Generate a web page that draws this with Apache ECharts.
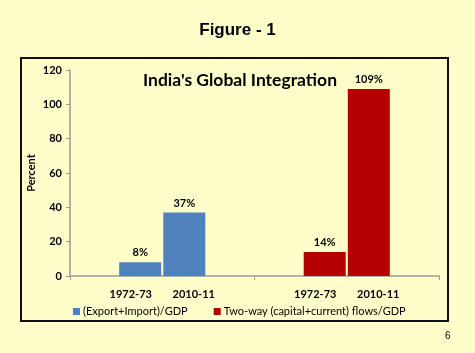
<!DOCTYPE html>
<html>
<head>
<meta charset="utf-8">
<script src="https://cdn.jsdelivr.net/npm/echarts@6/dist/echarts.min.js"></script>
<style>
  html, body { margin: 0; padding: 0; background: #ffffcc; }
  #chart { width: 475px; height: 353px; }
</style>
</head>
<body>
<div id="chart"></div>
<script>
// data
const groups = ['(Export+Import)/GDP', 'Two-way (capital+current) flows/GDP'];
const periods = ['1972-73', '2010-11'];
const tradeValues = [8, 37];    // (Export+Import)/GDP
const flowValues = [14, 109];   // Two-way flows/GDP
const yTicks = [0, 20, 40, 60, 80, 100, 120];

const groupColors = ['#4f81bd', '#b40000'];

// one bar per period in each group; stack per period so each group holds two slots
const series = [];
groups.forEach(function (g, gi) {
  const vals = gi === 0 ? tradeValues : flowValues;
  periods.forEach(function (p, pi) {
    const data = groups.map(function (_, k) { return k === gi ? vals[pi] : '-'; });
    series.push({
      name: g,
      type: 'bar',
      stack: 'p' + pi,
      data: data,
      barWidth: 42,
      barGap: '5%',
      itemStyle: { color: groupColors[gi] },
      label: {
        show: true,
        position: 'top',
        formatter: '{c}%',
        color: '#000',
        fontFamily: 'Lato',
        fontWeight: 'bold',
        fontSize: 11,
        distance: 4
      }
    });
  });
});

const chart = echarts.init(document.getElementById('chart'));
chart.setOption({
  backgroundColor: '#ffffcc',
  animation: false,
  title: [
    {
      text: 'Figure - 1',
      left: 'center',
      top: 17,
      textStyle: { fontFamily: 'Liberation Sans', fontWeight: 'bold', fontSize: 17, color: '#000' }
    },
    {
      text: "India's Global Integration",
      left: 235,
      textAlign: 'center',
      top: 66,
      textStyle: { fontFamily: 'Lato', fontWeight: 'bold', fontSize: 17.5, color: '#000' }
    },
    {
      text: '6',
      left: 440,
      top: 326,
      textStyle: { fontFamily: 'Liberation Sans', fontWeight: 'normal', fontSize: 10, color: '#000' }
    }
  ],
  graphic: [
    {
      type: 'rect',
      shape: { x: 21, y: 58, width: 427, height: 263 },
      style: { fill: 'none', stroke: '#111', lineWidth: 2 },
      silent: true
    }
  ],
  legend: {
    data: groups,
    left: 68,
    top: 301,
    itemWidth: 7,
    itemHeight: 7,
    itemGap: 26,
    icon: 'rect',
    textStyle: { fontFamily: 'Lato', fontSize: 11, color: '#000', padding: [0, 0, 0, -2] }
  },
  grid: { left: 70, right: 36, top: 70, bottom: 77 },
  xAxis: {
    type: 'category',
    data: groups,
    axisLine: { lineStyle: { color: '#9a9a9a', width: 1.5 } },
    axisTick: { show: true, length: 4, lineStyle: { color: '#9a9a9a' } },
    axisLabel: {
      margin: 12,
      formatter: function () {
        return '{p|' + periods[0] + '}{s|}{p|' + periods[1] + '}';
      },
      rich: {
        p: { fontFamily: 'Lato', fontWeight: 'bold', fontSize: 11, color: '#000', width: 40, align: 'center' },
        s: { width: 23 }
      }
    }
  },
  yAxis: {
    type: 'value',
    min: yTicks[0],
    max: yTicks[yTicks.length - 1],
    interval: yTicks[1] - yTicks[0],
    name: 'Percent',
    nameLocation: 'middle',
    nameRotate: 90,
    nameGap: 33,
    nameMoveOverlap: false,
    nameTextStyle: { fontFamily: 'Lato', fontWeight: 'bold', fontSize: 11, color: '#000' },
    axisLine: { show: true, lineStyle: { color: '#9a9a9a', width: 1.5 } },
    axisTick: { show: true, length: 4, lineStyle: { color: '#9a9a9a' } },
    splitLine: { show: false },
    axisLabel: { fontFamily: 'Lato', fontWeight: 'bold', fontSize: 11, color: '#000', margin: 8 }
  },
  series: series
});
</script>
</body>
</html>
